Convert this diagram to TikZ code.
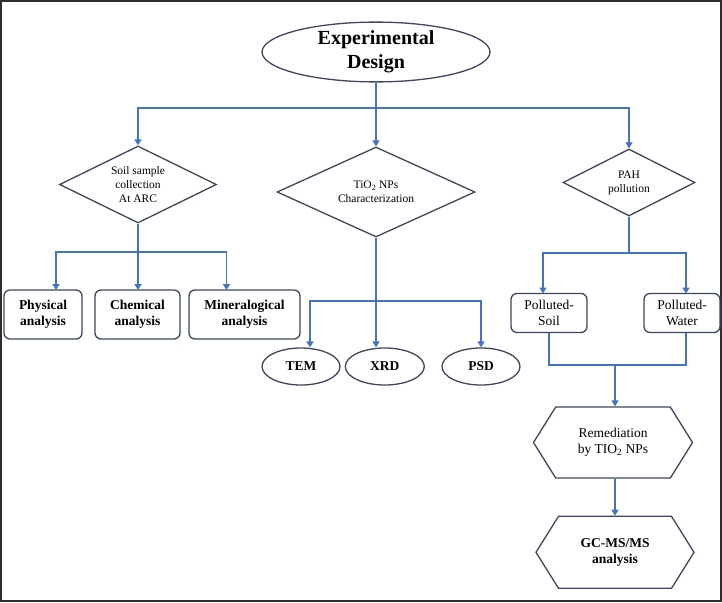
\documentclass[tikz,border=0pt]{standalone}
\usepackage{fontspec}
\setmainfont{Liberation Serif}
\usepackage{xcolor}
\usepackage{tikz}
\usetikzlibrary{shapes.geometric, shapes.symbols, arrows.meta, positioning}

\definecolor{linkblue}{RGB}{68,114,196}
\definecolor{edgegray}{RGB}{60,70,96}

\begin{document}
\begin{tikzpicture}[
    x=1pt, y=-1pt,
    titleell/.style={ellipse, draw=edgegray, line width=1.3pt, inner sep=0pt, minimum width=228pt, minimum height=55pt, align=center, font=\fontsize{20}{24}\selectfont\bfseries},
    decision/.style={diamond, aspect=2, draw=edgegray, line width=1.3pt, inner sep=0pt, align=center, font=\fontsize{11.5}{14}\selectfont},
    taskbox/.style={rectangle, rounded corners=6pt, draw=edgegray, line width=1.3pt, inner sep=0pt, outer sep=0pt, minimum height=49pt, align=center, font=\fontsize{13.5}{16}\selectfont\bfseries},
    samplebox/.style={taskbox, minimum width=76pt, minimum height=39pt, font=\fontsize{13.5}{16}\selectfont},
    testell/.style={ellipse, draw=edgegray, line width=1.3pt, inner sep=0pt, minimum width=78pt, minimum height=37pt, font=\fontsize{13.5}{16}\selectfont\bfseries},
    hexbox/.style={signal, signal to=west and east, signal pointer angle=116, draw=edgegray, line width=1.3pt, inner sep=0pt, minimum width=158pt, minimum height=72pt, align=center, font=\fontsize{13.5}{16}\selectfont},
    link/.style={draw=linkblue, line width=1.5pt},
    arrow/.style={link, -{Triangle[length=6pt, width=7pt]}}
]

    % frame and page size
    \useasboundingbox (0,0) rectangle (722,602);
    \draw[line width=2pt, draw=black!82] (1,1) rectangle (721,601);

    % Top: Experimental Design
    \node (design) [titleell] at (376,52) {Experimental\\Design};

    % Three main branches
    \node (soil) [decision, minimum width=157pt, minimum height=77pt] at (138,184.5) {Soil sample\\collection\\At ARC};
    \node (tio2) [decision, minimum width=198pt, minimum height=90pt] at (376,192) {TiO\textsubscript{2} NPs\\Characterization};
    \node (pah) [decision, minimum width=132pt, minimum height=67pt] at (629,182.5) {PAH\\pollution};

    % Soil analyses
    \node (phys) [taskbox, minimum width=78pt] at (43,314.5) {Physical\\analysis};
    \node (chem) [taskbox, minimum width=85pt, right=13pt of phys] {Chemical\\analysis};
    \node (mineral) [taskbox, minimum width=111pt, right=9pt of chem] {Mineralogical\\analysis};

    % TiO2 characterization
    \node (tem) [testell] at (301,366.5) {TEM};
    \node (xrd) [testell, minimum width=79pt, right=4pt of tem] {XRD};
    \node (psd) [testell] at (481,366.5) {PSD};

    % Polluted samples
    \node (psoil) [samplebox] at (549,313) {Polluted-\\Soil};
    \node (pwater) [samplebox] at (682,313) {Polluted-\\Water};

    % Remediation and analysis
    \node (remed) [hexbox, minimum width=159pt, minimum height=71pt] at (613,442.5) {Remediation\\by TIO\textsubscript{2} NPs};
    \node (gcms) [hexbox, below=37pt of remed, xshift=2pt, font=\fontsize{13.5}{16}\selectfont\bfseries] {GC-MS/MS\\analysis};

    % split points
    \coordinate (topsplit) at (376,108);
    \coordinate (soilsplit) at (138,252);
    \coordinate (tiosplit) at (376,301);
    \coordinate (pahsplit) at (629,253);
    \coordinate (join) at (615,365);

    % Connecting Arrows
    \draw [link] (design.south) -- (topsplit);
    \draw [arrow] (topsplit) -| (soil.north);
    \draw [arrow] (topsplit) -- (tio2.north);
    \draw [arrow] (topsplit) -| (pah.north);

    \draw [link] (soil.south) -- (soilsplit);
    \draw [arrow] (soilsplit) -| ([xshift=13pt]phys.north);
    \draw [arrow] (soilsplit) -- (soilsplit |- chem.north);
    \draw [arrow] (soilsplit) -| ([xshift=-18pt]mineral.north);

    \draw [link] (tio2.south) -- (tiosplit);
    \draw [arrow] (tiosplit) -| ([xshift=9pt]tem.north);
    \draw [arrow] (tiosplit) -- (tiosplit |- xrd.north);
    \draw [arrow] (tiosplit) -| (psd.north);

    \draw [link] (pah.south) -- (pahsplit);
    \draw [arrow] (pahsplit) -| ([xshift=-6pt]psoil.north);
    \draw [arrow] (pahsplit) -| ([xshift=4pt]pwater.north);

    \draw [link] (psoil.south) |- (join);
    \draw [link] ([xshift=4pt]pwater.south) |- (join);
    \draw [arrow] (join) -- (join |- remed.north);
    \draw [arrow] (join |- remed.south) -- (join |- gcms.north);

\end{tikzpicture}
\end{document}
